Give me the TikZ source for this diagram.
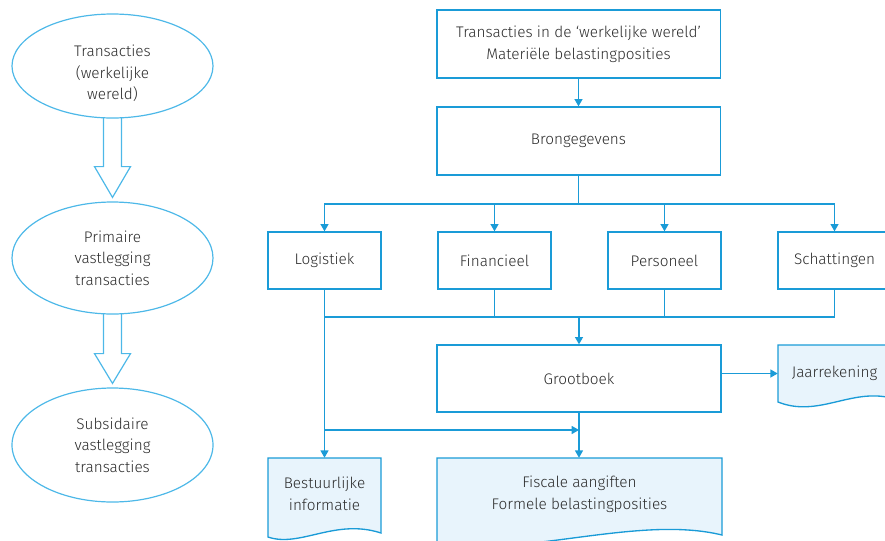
\documentclass[tikz,border=0pt]{standalone}
\usepackage{fontspec}
\setmainfont{Fira Sans Light}
\usetikzlibrary{arrows.meta,shapes.geometric,calc}
\definecolor{lineblue}{HTML}{1A9BD7}
\definecolor{ellblue}{HTML}{4DB8E8}
\definecolor{docfill}{HTML}{E8F4FC}
\definecolor{txt}{HTML}{2B2B2B}
\begin{document}
\begin{tikzpicture}[x=0.75pt,y=-0.75pt,
  every node/.style={text=txt,font=\fontsize{11.5}{16.2}\selectfont,align=center},
  ell/.style={ellipse,draw=ellblue,line width=0.9pt,inner sep=0pt,minimum width=150.75pt},
  hollow/.style={draw=ellblue,line width=0.9pt,line join=miter},
  box/.style={rectangle,draw=lineblue,line width=1pt,inner sep=0pt},
  wbox/.style={box,minimum width=212.5pt,minimum height=51pt},
  sbox/.style={box,minimum width=84.75pt,minimum height=42.75pt},
  docnode/.style={rectangle,inner sep=0pt},
  docshape/.style={draw=lineblue,fill=docfill,line width=1pt},
  conn/.style={draw=lineblue,line width=1pt},
  arr/.style={conn,-{Triangle[length=5.5pt,width=6pt]}}
]
\useasboundingbox (0,0) rectangle (885,540);
\begin{scope}
\clip (0,0) rectangle (885,540);

% left column
\node[ell,minimum height=78pt] (e1) at (112.5,66) {};
\node at (112.5,73.5) {Transacties\\(werkelijke\\wereld)};
\node[ell,minimum height=84pt] (e2) at (112.5,258) {Primaire\\vastlegging\\transacties};
\node[ell,minimum height=85.5pt] (e3) at (112.5,445) {Subsidaire\\vastlegging\\transacties};

\draw[hollow] ($(e1.south)+(-9,-1)$) -- ($(e1.south)+(-9,48)$) -- ($(e1.south)+(-18,48)$)
  -- ($(e2.north)+(0,-4)$) -- ($(e1.south)+(18,48)$) -- ($(e1.south)+(9,48)$) -- ($(e1.south)+(9,-1)$);
\draw[hollow] ($(e2.south)+(-9,-1)$) -- ($(e2.south)+(-9,39)$) -- ($(e2.south)+(-18,39)$)
  -- ($(e3.north)+(0,-4)$) -- ($(e2.south)+(18,39)$) -- ($(e2.south)+(9,39)$) -- ($(e2.south)+(9,-1)$);

% boxes
\node[wbox] (top) at (578.5,44) {Transacties in de ‘werkelijke wereld’\\Materiële belastingposities};
\node[wbox] (bron) at (578.5,141) {Brongegevens};
\node[sbox] (log) at (324.5,260.5) {Logistiek};
\node[sbox] (fin) at (494.5,260.5) {Financieel};
\node[sbox] (pers) at (664.5,260.5) {Personeel};
\node[sbox] (schat) at (834.5,260.5) {Schattingen};
\node[box,minimum width=213pt,minimum height=50.25pt] (groot) at (579,378.5) {Grootboek};

% documents
\draw[docshape] (778,345) -- (891,345) -- (891,398) .. controls (851,388) and (818,418) .. (778,402) -- cycle;
\node[docnode,minimum width=84.75pt,minimum height=42.75pt] (jaar) at (834.5,373.5) {Jaarrekening};

\draw[docshape] (268,458) -- (381,458) -- (381,533) .. controls (335,518) and (300,548) .. (268,537) -- cycle;
\node[docnode,minimum width=84.75pt,minimum height=54pt] (best) at (324.5,494) {Bestuurlijke\\informatie};

\draw[docshape] (437,458) -- (722,458) -- (722,535) .. controls (640,515) and (530,556) .. (437,545) -- cycle;
\node[docnode,minimum width=213.75pt,minimum height=54pt] (fisc) at (579.5,494) {Fiscale aangiften\\Formele belastingposities};

% connectors
\draw[arr] (top.south) -- (bron.north);
\coordinate (split) at (578.5,204);
\draw[conn] (bron.south) -- (split);
\draw[arr] (split) -| (log.north);
\draw[arr] (split) -| (fin.north);
\draw[arr] (split) -| (pers.north);
\draw[arr] (split) -| (schat.north);

\coordinate (merge) at (579,317);
\draw[conn] (fin.south) |- (merge);
\draw[conn] (pers.south) |- (merge);
\draw[conn] (schat.south) |- (merge);
\draw[conn] (log.south |- merge) -- (merge);
\draw[arr] (merge) -- (groot.north);
\draw[arr] (log.south) -- (log.south |- best.north);

\draw[arr] (groot.east |- jaar.west) -- (jaar.west);

\coordinate (feed) at (579,430);
\draw[arr] (log.south |- feed) -- (feed);
\draw[arr] (groot.south) -- (groot.south |- fisc.north);
\end{scope}
\end{tikzpicture}
\end{document}
